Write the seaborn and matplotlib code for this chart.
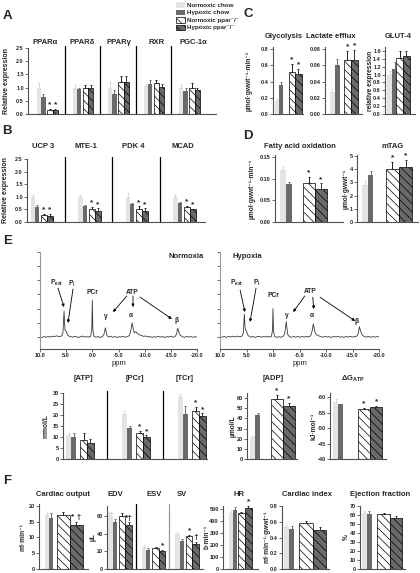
import numpy as np
import pandas as pd
import matplotlib
matplotlib.use("Agg")
import matplotlib.pyplot as plt
from matplotlib.patches import Patch
from matplotlib.ticker import FormatStrFormatter
import seaborn as sns

# ---------------- data ----------------
CONDS = ["Normoxic chow", "Hypoxic chow", "Normoxic ppar⁻/⁻", "Hypoxic ppar⁻/⁻"]
NS = ["", "", "", ""]
SS = ["", "", "*", "*"]

# A - nuclear receptors
a_genes = ["PPARα", "PPARδ", "PPARγ", "RXR", "PGC-1α"]
a_vals = [[1.00, 0.65, 0.15, 0.15], [1.00, 0.93, 0.97, 0.98], [1.00, 0.75, 1.23, 1.23],
          [1.05, 1.12, 1.18, 1.03], [1.00, 0.88, 0.98, 0.92]]
a_errs = [[0.18, 0.12, 0.03, 0.05], [0.08, 0.05, 0.14, 0.13], [0.20, 0.17, 0.20, 0.20],
          [0.10, 0.15, 0.10, 0.10], [0.12, 0.10, 0.18, 0.07]]
a_stars = [SS, NS, NS, NS, NS]

# B - target genes
b_genes = ["UCP 3", "MTE-1", "PDK 4", "MCAD"]
b_vals = [[1.00, 0.58, 0.28, 0.23], [1.00, 0.62, 0.50, 0.42], [1.00, 0.72, 0.50, 0.42],
          [1.00, 0.75, 0.58, 0.50]]
b_errs = [[0.08, 0.10, 0.03, 0.10], [0.08, 0.04, 0.10, 0.12], [0.15, 0.03, 0.12, 0.12],
          [0.12, 0.05, 0.05, 0.03]]
b_stars = [SS, SS, SS, SS]

# C - glucose metabolism
glyc_vals, glyc_errs = [0.16, 0.36, 0.52, 0.49], [0.03, 0.04, 0.10, 0.06]
lact_vals, lact_errs = [0.027, 0.060, 0.066, 0.066], [0.004, 0.008, 0.012, 0.013]
glut_vals, glut_errs = [1.00, 1.15, 1.43, 1.48], [0.10, 0.17, 0.18, 0.12]

# D - fatty acid metabolism
fao_vals, fao_errs = [0.120, 0.088, 0.091, 0.077], [0.010, 0.004, 0.012, 0.012]
mtag_vals, mtag_errs = [2.80, 3.55, 4.05, 4.20], [0.30, 0.35, 0.50, 0.50]

# E - 31P NMR spectra
ppm = [10.0, 9.6, 9.2, 8.8, 8.4, 8.0, 7.6, 7.2, 6.8, 6.4,
       6.0, 5.8, 5.6, 5.5, 5.4, 5.3, 5.2, 5.0, 4.9, 4.7,
       4.4, 4.1, 3.8, 3.4, 3.0, 2.6, 2.2, 1.8, 1.4, 1.0,
       0.6, 0.3, 0.1, 0.0, -0.1, -0.3, -0.7, -1.1, -1.5, -1.9,
       -2.2, -2.4, -2.5, -2.6, -2.8, -3.1, -3.5, -3.9, -4.3, -4.7,
       -5.1, -5.5, -5.9, -6.3, -6.7, -7.1, -7.4, -7.6, -7.8, -8.0,
       -8.3, -8.6, -9.0, -9.4, -9.8, -10.2, -10.6, -11.0, -11.4, -11.8,
       -12.2, -12.6, -13.0, -13.4, -13.8, -14.2, -14.6, -15.0, -15.4, -15.8,
       -16.1, -16.3, -16.5, -16.8, -17.2, -17.6, -18.0, -18.4, -18.8, -19.2,
       -19.6, -20.0]
normoxia_int = [1.00, 0.97, 1.03, 0.98, 1.04, 0.99, 1.06, 1.02, 1.08, 1.03,
                1.05, 1.10, 1.35, 2.20, 2.83, 1.90, 1.45, 1.40, 1.30, 1.12,
                1.05, 1.02, 0.98, 1.04, 1.01, 0.97, 1.03, 1.06, 0.99, 1.02,
                1.00, 1.05, 1.60, 3.60, 1.55, 1.05, 0.98, 1.03, 0.97, 1.02,
                1.15, 1.50, 1.65, 1.45, 1.10, 1.00, 1.04, 0.98, 1.03, 0.96,
                1.02, 0.99, 1.04, 0.98, 1.03, 1.10, 1.55, 2.00, 1.60, 1.30,
                1.38, 1.25, 1.15, 1.10, 1.04, 1.07, 1.00, 1.03, 0.97, 1.02,
                0.98, 1.04, 0.99, 1.03, 0.97, 1.02, 1.00, 1.05, 0.98, 1.03,
                1.20, 1.62, 1.40, 1.12, 1.02, 0.97, 1.04, 0.99, 1.03, 0.98,
                1.02, 0.99]
hypoxia_int = [1.02, 0.98, 1.04, 0.97, 1.03, 1.00, 1.05, 0.99, 1.06, 1.02,
               1.04, 1.08, 1.30, 2.00, 2.60, 1.80, 1.50, 1.42, 1.30, 1.10,
               1.03, 0.99, 1.04, 0.97, 1.02, 1.05, 0.98, 1.03, 1.00, 1.04,
               0.99, 1.04, 1.45, 3.00, 1.40, 1.03, 0.97, 1.02, 0.98, 1.04,
               1.20, 1.80, 2.08, 1.70, 1.15, 1.02, 0.98, 1.03, 0.99, 1.04,
               0.98, 1.03, 0.99, 1.04, 1.00, 1.08, 1.45, 1.92, 1.55, 1.25,
               1.15, 1.08, 1.03, 0.98, 1.04, 0.99, 1.02, 0.97, 1.03, 1.00,
               1.04, 0.98, 1.02, 0.97, 1.03, 1.00, 1.04, 0.99, 1.03, 1.05,
               1.25, 1.73, 1.45, 1.15, 1.03, 0.99, 1.04, 0.98, 1.02, 0.99,
               1.03, 1.00]
ppm_ticks = [10, 5, 0, -5, -10, -15, -20]

# E - energetics
e_metab = ["[ATP]", "[PCr]", "[TCr]"]
e_vals = [[10.8, 10.1, 8.6, 7.2], [20.5, 14.2, 11.8, 10.1], [28.2, 20.5, 22.0, 19.5]]
e_errs = [[0.8, 1.8, 3.0, 2.0], [1.5, 0.6, 0.8, 0.6], [1.5, 3.5, 1.5, 1.2]]
e_stars = [NS, SS, SS]
adp_vals, adp_errs = [22, 43, 59, 52], [1, 2, 4, 3]
dg_vals, dg_errs = [-58.5, -57.6, -56.1, -56.7], [0.8, 0.3, 0.3, 0.4]

# F - cardiac function
co_vals, co_errs = [17.2, 16.2, 17.2, 14.0], [0.6, 1.5, 1.0, 0.9]
vol_names = ["EDV", "ESV", "SV"]
vol_vals = [[63, 53, 60.5, 50], [25, 21, 23.5, 20.5], [40, 32, 37, 28]]
vol_errs = [[2, 4, 2.5, 3], [2, 3, 1, 1], [2, 2, 1.5, 3]]
vol_stars = [["", "", "", "*†"], ["", "", "", "*"], ["", "", "*", "†"]]
hr_vals, hr_errs = [470, 495, 468, 508], [20, 25, 10, 15]
ci_vals, ci_errs = [0.53, 0.51, 0.59, 0.50], [0.03, 0.04, 0.02, 0.03]
ef_vals, ef_errs = [62, 61.5, 61, 56.5], [2, 2.5, 1, 2.5]

# ---------------- style ----------------
sns.set_style("ticks")
plt.rcParams["font.family"] = ["Liberation Sans", "DejaVu Sans"]
plt.rcParams["font.weight"] = "bold"
plt.rcParams["hatch.linewidth"] = 0.5
plt.rcParams["mathtext.fontset"] = "custom"
plt.rcParams["mathtext.rm"] = "Liberation Sans:bold"
plt.rcParams["mathtext.it"] = "Liberation Sans:bold"
plt.rcParams["mathtext.default"] = "regular"

GAP = "_gap"
HUE_ORDER = [CONDS[0], CONDS[1], GAP, CONDS[2], CONDS[3]]
PALETTE = {CONDS[0]: "#e4e4e4", CONDS[1]: "#6a6a6a", GAP: "white",
           CONDS[2]: "white", CONDS[3]: "#6a6a6a"}
ERR_COLORS = ["#d6d6d6", "#6a6a6a", "#222222", "#333333"]
HATCH = "\\\\\\\\"
AX_COLOR = "#505050"
TICK_SIZE = 4.0

W, H = 420, 573
fig = plt.figure(figsize=(W / 100, H / 100), dpi=100)


def px_axes(x0, x1, ytop, ybot):
    return fig.add_axes([x0 / W, 1 - ybot / H, (x1 - x0) / W, (ybot - ytop) / H])


def ftext(x, y, s, size=5.5, **kw):
    kw.setdefault("ha", "center")
    kw.setdefault("va", "center")
    fig.text(x / W, 1 - y / H, s, fontsize=size, **kw)


def style_axes(ax):
    sns.despine(ax=ax)
    for sp in ("left", "bottom"):
        ax.spines[sp].set_color(AX_COLOR)
        ax.spines[sp].set_linewidth(0.8)
    ax.tick_params(axis="both", length=2, width=0.6, labelsize=TICK_SIZE, pad=1,
                   color=AX_COLOR)


def bar_panel(box, groups, vals, errs, stars, ylim, yticks, fmt, xlim, width,
              fs, fh, seps=(), sep_colors=None):
    ax = px_axes(*box)
    df = pd.DataFrame({
        "group": np.repeat(groups, 4),
        "cond": CONDS * len(groups),
        "value": np.ravel(vals),
        "err": np.ravel(errs),
        "star": np.ravel(stars),
    })
    sns.barplot(data=df, x="group", y="value", hue="cond", order=groups,
                hue_order=HUE_ORDER, palette=PALETTE, dodge=True, width=width,
                errorbar=None, saturation=1, legend=False, linewidth=0, ax=ax)
    bars = [c for c in ax.containers if len(c) > 0]
    span = abs(ylim[1] - ylim[0])
    for k, cont in enumerate(bars):
        sub = df[df["cond"] == CONDS[k]]
        for p, (_, row) in zip(cont, sub.iterrows()):
            s, x = p.get_width(), p.get_x()
            w = (fs if k < 2 else fh) * s
            if k in (0, 2):
                p.set_x(x + s - w)
            p.set_width(w)
            if k >= 2:
                p.set_hatch(HATCH)
                p.set_edgecolor("black")
                p.set_linewidth(0.5)
            xc = p.get_x() + w / 2
            v, e = row["value"], row["err"]
            sign = 1 if v >= 0 else -1
            yerr = [[0], [e]] if sign > 0 else [[e], [0]]
            ax.errorbar(xc, v, yerr=yerr, fmt="none", ecolor=ERR_COLORS[k],
                        elinewidth=0.7, capsize=1.0, capthick=0.7)
            if row["star"]:
                ax.text(xc, v + sign * (e + 0.01 * span), row["star"],
                        ha="center", va="bottom", fontsize=6)
    ax.set_xlim(*xlim)
    ax.set_ylim(*ylim)
    ax.set_yticks(yticks)
    ax.yaxis.set_major_formatter(FormatStrFormatter(fmt))
    ax.set_xticks([])
    ax.set_xlabel("")
    ax.set_ylabel("")
    style_axes(ax)
    for i, sx in enumerate(seps):
        c = sep_colors[i] if sep_colors else "black"
        ax.axvline(sx, color=c, lw=0.9, ymin=0, ymax=1.03, clip_on=False)
    return ax


def spectrum(box, inten, texts, arrows):
    ax = px_axes(*box)
    sns.lineplot(x=ppm, y=inten, ax=ax, color="#3a3a3a", lw=0.6,
                 estimator=None, sort=False)
    ax.set_xlim(10, -20)
    ax.set_ylim(0.15, 7.0)
    ax.set_xticks(ppm_ticks)
    ax.xaxis.set_major_formatter(FormatStrFormatter("%.1f"))
    ax.set_yticks(range(1, 8))
    ax.set_yticklabels([])
    style_axes(ax)
    ax.spines["left"].set_color("#999999")
    ax.set_xlabel("ppm", fontsize=5.5, labelpad=1)
    ax.set_ylabel("")
    for s, x, y in texts:
        ax.text(x, y, s, ha="center", va="center", fontsize=4.8)
    for (x0, y0), (x1, y1) in arrows:
        ax.annotate("", xy=(x1, y1), xytext=(x0, y0),
                    arrowprops=dict(arrowstyle="-|>", color="black", lw=0.6,
                                    mutation_scale=4, shrinkA=0, shrinkB=0))
    return ax


# ---------------- panel A ----------------
bar_panel((28, 216, 48, 114), a_genes, a_vals, a_errs, a_stars, (0, 2.5),
          np.arange(0, 2.51, 0.5), "%.1f", (-0.535, 4.76), 0.52, 1.1, 1.45,
          seps=[0.5, 1.5, 2.5, 3.5])
for x, t in zip([45, 82, 119, 157, 193], a_genes):
    ftext(x, 42, t)
ftext(7, 81, "Relative expression", size=5, rotation=90)
ftext(7, 16, "A", size=9.5)

# ---------------- panel B ----------------
bar_panel((27, 205, 159, 222), b_genes, b_vals, b_errs, b_stars, (0, 2.5),
          np.arange(0, 2.51, 0.5), "%.1f", (-0.295, 3.45), 0.42, 1.1, 1.5,
          seps=[0.5, 1.5, 2.5])
for x, t in zip([43, 86, 133, 183], b_genes):
    ftext(x, 147, t)
ftext(6, 190, "Relative expression", size=5, rotation=90)
ftext(7, 131, "B", size=9.5)

# ---------------- panel C ----------------
bar_panel((273, 303, 47.4, 114), ["Glycolysis"], [glyc_vals], [glyc_errs], [SS],
          (0, 0.82), np.arange(0, 0.81, 0.2), "%.1f", (-0.467, 0.533), 0.89, 0.84, 1.22)
bar_panel((325, 362, 47.4, 114), ["Lactate efflux"], [lact_vals], [lact_errs], [SS],
          (0, 0.082), np.arange(0, 0.081, 0.02), "%.2f", (-0.486, 0.514), 0.72, 0.94, 1.31)
bar_panel((385, 415, 47, 114), ["GLUT-4"], [glut_vals], [glut_errs], [NS],
          (0, 1.7), np.arange(0, 1.61, 0.2), "%.1f", (-0.417, 0.583), 0.61, 1.36, 1.8)
ftext(284, 36, "Glycolysis")
ftext(331, 36, "Lactate efflux")
ftext(398, 36, "GLUT-4")
ftext(249, 81, "µmol·gwwt⁻¹·min⁻¹", size=4.8, rotation=90)
ftext(370, 81, "relative expression", size=4.8, rotation=90)
ftext(248, 14, "C", size=9.5)

# ---------------- panel D ----------------
bar_panel((275, 343, 155, 222), ["Fatty acid oxidation"], [fao_vals], [fao_errs], [SS],
          (0, 0.1546), [0, 0.05, 0.10, 0.15], "%.2f", (-0.375, 0.625), 0.71, 0.62, 1.24)
bar_panel((357, 418, 155, 222), ["mTAG"], [mtag_vals], [mtag_errs], [SS],
          (0, 5.076), range(0, 6), "%d", (-0.434, 0.566), 0.85, 0.53, 1.26)
ftext(300, 146, "Fatty acid oxidation")
ftext(393, 146, "mTAG")
ftext(252, 189, "µmol·gwwt⁻¹·min⁻¹", size=4.8, rotation=90)
ftext(346, 189, "µmol·gwwt⁻¹", size=4.8, rotation=90)
ftext(248, 136, "D", size=9.5)

# ---------------- panel E: spectra ----------------
spectrum((40, 197, 252, 349), normoxia_int,
         [("P$_{ext}$", 6.75, 4.8), ("P$_{i}$", 3.9, 4.75), ("PCr", 0.06, 4.17),
          ("ATP", -7.6, 4.17), ("γ", -2.6, 2.45), ("α", -7.4, 2.55), ("β", -16.0, 2.15)],
         [((6.56, 4.45), (5.41, 3.11)), ((3.7, 4.38), (4.65, 1.99)),
          ((-6.6, 3.9), (-3.95, 2.76)), ((-7.77, 3.9), (-7.77, 3.11)),
          ((-9.1, 3.82), (-15.2, 2.27))])
spectrum((220, 379, 252, 349), hypoxia_int,
         [("P$_{ext}$", 6.8, 4.8), ("P$_{i}$", 3.0, 4.8), ("PCr", 0.0, 3.96),
          ("ATP", -7.0, 4.24), ("γ", -2.6, 2.55), ("α", -7.4, 2.55), ("β", -15.8, 2.06)],
         [((6.2, 4.3), (5.3, 2.76)), ((3.2, 4.45), (4.34, 2.06)),
          ((-6.0, 3.9), (-3.8, 2.76)), ((-7.5, 3.8), (-7.7, 2.97)),
          ((-8.9, 3.8), (-15.5, 2.13))])
ftext(186, 257, "Normoxia")
ftext(247, 257, "Hypoxia")
ftext(8, 241, "E", size=9.5)

# ---------------- panel E: energetics ----------------
bar_panel((63, 207, 393, 459), e_metab, e_vals, e_errs, e_stars, (0, 30),
          range(0, 31, 5), "%d", (-0.286, 2.286), 0.476, 0.94, 1.3, seps=[0.5, 1.5])
bar_panel((247, 297, 393, 459), ["[ADP]"], [adp_vals], [adp_errs], [SS],
          (0, 65), range(0, 61, 10), "%d", (-0.44, 0.56), 0.93, 0.54, 1.29)
bar_panel((330, 386, 393, 459), ["dG"], [dg_vals], [dg_errs], [SS],
          (-40, -61.3), range(-40, -61, -5), "%d", (-0.43, 0.57), 0.95, 0.47, 1.17)
for x, t in zip([83, 135, 185, 273], e_metab + ["[ADP]"]):
    ftext(x, 379, t)
ftext(353, 379, "ΔG$_{ATP}$")
ftext(46, 426, "mmol/L", size=4.8, rotation=90)
ftext(233, 426, "µmol/L", size=4.8, rotation=90)
ftext(314, 426, "kJ·mol⁻¹", size=4.8, rotation=90)

# ---------------- panel F ----------------
bar_panel((39, 88, 504, 569), ["Cardiac output"], [co_vals], [co_errs],
          [["", "", "", "* †"]], (0, 20.6), range(0, 21, 5), "%d",
          (-0.418, 0.582), 0.714, 0.64, 1.86)
bar_panel((107, 203, 506, 569), vol_names, vol_vals, vol_errs, vol_stars,
          (0, 71.3), range(0, 61, 20), "%d", (-0.36, 2.51), 0.64, 1.0, 1.5,
          seps=[0.5, 1.5], sep_colors=["black", "#9a9a9a"])
bar_panel((223, 258, 506, 569), ["HR"], [hr_vals], [hr_errs], [["", "", "", "*"]],
          (0, 525), range(0, 501, 100), "%d", (-0.457, 0.543), 0.57, 1.0, 1.75)
bar_panel((282, 329, 506, 569), ["Cardiac index"], [ci_vals], [ci_errs], [NS],
          (0, 0.8), np.arange(0, 0.81, 0.2), "%.1f", (-0.404, 0.596), 0.85, 0.63, 1.69)
bar_panel((360, 405, 506, 569), ["Ejection fraction"], [ef_vals], [ef_errs], [NS],
          (0, 70), range(0, 71, 10), "%d", (-0.41, 0.59), 0.85, 0.65, 1.63)
for x, t in zip([63, 115, 154, 182, 239, 307, 380],
                ["Cardiac output"] + vol_names + ["HR", "Cardiac index", "Ejection fraction"]):
    ftext(x, 495, t)
ftext(23, 537, "ml·min⁻¹", size=4.8, rotation=90)
ftext(93, 537, "µL", size=4.8, rotation=90)
ftext(207, 537, "b·min⁻¹", size=4.8, rotation=90)
ftext(267, 537, "ml·min⁻¹·gwwt⁻¹", size=4.8, rotation=90)
ftext(346, 537, "%", size=4.8, rotation=90)
ftext(7, 481, "F", size=9.5)

# ---------------- legend ----------------
handles = [Patch(facecolor=PALETTE[c], edgecolor="black" if i >= 2 else "none",
                 hatch=HATCH if i >= 2 else None, lw=0.5)
           for i, c in enumerate(CONDS)]
fig.legend(handles, CONDS, loc="upper left", bbox_to_anchor=(176 / W, 1 - 2 / H),
           frameon=False, fontsize=4.5, handlelength=1.4, handleheight=1.0,
           labelspacing=0.25, handletextpad=0.4, borderpad=0, borderaxespad=0)

fig.savefig("out.png", dpi=100)
